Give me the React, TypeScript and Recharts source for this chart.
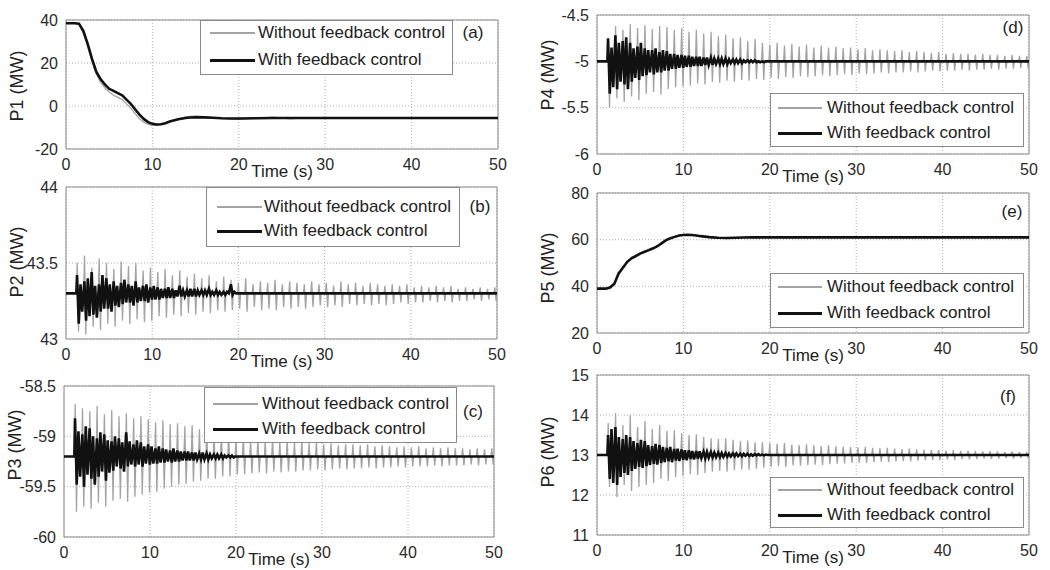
import React from "react";
import { LineChart, Line, XAxis, YAxis, CartesianGrid, ReferenceArea } from "recharts";

// shared time axis
const timeTicks = [0, 10, 20, 30, 40, 50];

// times of the oscillation spikes (s)
const spikeTimes = [1.2, 2.05, 2.9, 3.75, 4.6, 5.45, 6.3, 7.15, 8.0, 8.85, 9.7, 10.55, 11.4, 12.25, 13.1, 13.95, 14.8, 15.65, 16.5, 17.35, 18.2, 19.05, 19.9, 20.75, 21.6, 22.45, 23.3, 24.15, 25.0, 25.85, 26.7, 27.55, 28.4, 29.25, 30.1, 30.95, 31.8, 32.65, 33.5, 34.35, 35.2, 36.05, 36.9, 37.75, 38.6, 39.45, 40.3, 41.15, 42.0, 42.85, 43.7, 44.55, 45.4, 46.25, 47.1, 47.95, 48.8, 49.65];

// slow responses (P1, P5)
const slowTime = [0, 1, 1.5, 2, 2.5, 3, 3.5, 4, 4.5, 5, 5.5, 6, 6.5, 7, 7.5, 8, 8.5, 9, 9.5, 10, 10.5, 11, 11.5, 12, 13, 14, 15, 16, 17, 18, 19, 20, 22, 24, 26, 28, 30, 35, 40, 45, 50];

const p1With = [38.5, 38.5, 38.3, 35, 29, 22, 16, 12.5, 10, 8, 7, 6, 5, 3, 1, -1.5, -4, -6, -7.5, -8.3, -8.6, -8.5, -8, -7.2, -6.2, -5.5, -5.2, -5.3, -5.5, -5.7, -5.8, -5.8, -5.7, -5.6, -5.6, -5.6, -5.6, -5.6, -5.6, -5.6, -5.6];
const p1Without = [38.5, 38.5, 38, 34, 28, 21, 15, 11, 8.5, 6.5, 5, 4, 3, 1, -1, -3.5, -6, -7.5, -8.5, -9, -9, -8.6, -8, -7.2, -6, -5, -4.6, -5, -5.4, -5.8, -6, -6.2, -5.6, -5.2, -6, -5.4, -5.8, -5.6, -5.6, -5.6, -5.6];

const p5With = [39, 39, 39.5, 41, 45.5, 48, 50.5, 52, 53, 54, 54.8, 55.5, 56.3, 57.2, 58.5, 59.8, 60.6, 61.2, 61.8, 62, 62.1, 62, 61.8, 61.5, 61.1, 60.8, 60.7, 60.8, 60.9, 61, 61, 61, 61, 61, 61, 61, 61, 61, 61, 61, 61];
const p5Without = [39, 39, 39.8, 41.5, 45, 48.5, 50, 52.5, 52.8, 54.3, 54.5, 55.8, 56, 57.5, 58.2, 60, 60.4, 61.4, 61.6, 62.2, 62, 62.1, 61.7, 61.4, 60.9, 60.6, 60.8, 60.9, 61.1, 60.9, 61, 61.1, 60.9, 61, 61, 61, 61, 61, 61, 61, 61];

// P2
const p2Base = 43.3;
const p2Up = [43.50, 43.55, 43.47, 43.53, 43.50, 43.46, 43.51, 43.48, 43.50, 43.45, 43.47, 43.44, 43.46, 43.42, 43.45, 43.41, 43.43, 43.40, 43.42, 43.38, 43.41, 43.39, 43.37, 43.40, 43.36, 43.38, 43.37, 43.39, 43.36, 43.38, 43.37, 43.36, 43.38, 43.36, 43.37, 43.35, 43.38, 43.36, 43.37, 43.35, 43.37, 43.36, 43.35, 43.36, 43.35, 43.36, 43.34, 43.35, 43.34, 43.35, 43.34, 43.35, 43.33, 43.34, 43.33, 43.34, 43.33, 43.34];
const p2Down = [43.05, 43.03, 43.08, 43.06, 43.10, 43.08, 43.12, 43.10, 43.13, 43.11, 43.12, 43.15, 43.14, 43.16, 43.15, 43.17, 43.16, 43.18, 43.17, 43.19, 43.18, 43.19, 43.20, 43.18, 43.21, 43.19, 43.20, 43.19, 43.21, 43.20, 43.21, 43.20, 43.21, 43.22, 43.21, 43.22, 43.21, 43.23, 43.22, 43.23, 43.22, 43.23, 43.22, 43.23, 43.24, 43.23, 43.24, 43.24, 43.25, 43.24, 43.25, 43.24, 43.25, 43.25, 43.26, 43.25, 43.26, 43.25];
const p2Band = [
  [43.42, 43.10, 43.36, 43.18], [43.38, 43.12, 43.40, 43.15], [43.44, 43.16, 43.35, 43.14], [43.36, 43.18, 43.42, 43.20],
  [43.40, 43.20, 43.36, 43.18], [43.38, 43.22, 43.35, 43.21], [43.37, 43.23, 43.39, 43.24], [43.36, 43.24, 43.35, 43.22],
  [43.38, 43.24, 43.34, 43.25], [43.35, 43.25, 43.36, 43.24], [43.34, 43.26, 43.35, 43.26], [43.34, 43.26, 43.33, 43.27],
  [43.33, 43.27, 43.34, 43.27], [43.33, 43.27, 43.32, 43.28], [43.35, 43.28, 43.32, 43.28], [43.32, 43.28, 43.33, 43.28],
  [43.33, 43.28, 43.32, 43.29], [43.32, 43.29, 43.32, 43.29], [43.33, 43.29, 43.31, 43.29], [43.32, 43.29, 43.31, 43.29],
  [43.31, 43.29, 43.31, 43.30], [43.36, 43.29, 43.31, 43.30]
];

// P3
const p3Base = -59.2;
const p3Up = [-58.68, -58.72, -58.75, -58.70, -58.78, -58.74, -58.80, -58.77, -58.82, -58.80, -58.83, -58.86, -58.84, -58.88, -58.87, -58.90, -58.89, -58.93, -58.92, -58.96, -58.95, -58.98, -59.02, -59.00, -59.04, -59.02, -59.05, -59.03, -59.06, -59.04, -59.06, -59.05, -59.07, -59.06, -59.08, -59.07, -59.09, -59.08, -59.08, -59.09, -59.08, -59.10, -59.09, -59.10, -59.11, -59.10, -59.11, -59.10, -59.12, -59.11, -59.12, -59.11, -59.12, -59.12, -59.13, -59.12, -59.13, -59.12];
const p3Down = [-59.75, -59.70, -59.72, -59.66, -59.70, -59.64, -59.62, -59.65, -59.60, -59.58, -59.56, -59.55, -59.52, -59.50, -59.48, -59.47, -59.45, -59.44, -59.42, -59.42, -59.40, -59.40, -59.38, -59.38, -59.37, -59.36, -59.37, -59.35, -59.36, -59.35, -59.35, -59.34, -59.34, -59.33, -59.34, -59.33, -59.32, -59.33, -59.32, -59.32, -59.31, -59.32, -59.31, -59.31, -59.30, -59.31, -59.30, -59.30, -59.30, -59.29, -59.30, -59.29, -59.29, -59.29, -59.28, -59.29, -59.28, -59.28];
const p3Band = [
  [-58.82, -59.48, -58.95, -59.40], [-58.98, -59.50, -58.90, -59.38], [-58.92, -59.42, -59.00, -59.48], [-59.02, -59.40, -58.96, -59.35],
  [-58.98, -59.44, -59.04, -59.36], [-59.05, -59.34, -59.00, -59.30], [-59.02, -59.32, -59.06, -59.35], [-58.96, -59.30, -59.05, -59.28],
  [-59.08, -59.30, -59.04, -59.28], [-59.06, -59.30, -59.10, -59.27], [-59.08, -59.28, -59.10, -59.27], [-59.12, -59.27, -59.10, -59.26],
  [-59.12, -59.26, -59.13, -59.25], [-59.14, -59.26, -59.12, -59.25], [-59.14, -59.25, -59.15, -59.24], [-59.15, -59.24, -59.15, -59.24],
  [-59.16, -59.24, -59.16, -59.23], [-59.17, -59.23, -59.16, -59.23], [-59.17, -59.23, -59.18, -59.22], [-59.18, -59.22, -59.18, -59.22],
  [-59.18, -59.22, -59.19, -59.21], [-59.19, -59.21, -59.19, -59.21]
];

// P4
const p4Base = -5.0;
const p4Up = [-4.78, -4.62, -4.66, -4.60, -4.64, -4.61, -4.65, -4.62, -4.63, -4.66, -4.64, -4.68, -4.66, -4.70, -4.68, -4.73, -4.71, -4.75, -4.74, -4.78, -4.76, -4.80, -4.82, -4.80, -4.83, -4.81, -4.84, -4.82, -4.85, -4.83, -4.85, -4.84, -4.86, -4.85, -4.87, -4.86, -4.88, -4.87, -4.88, -4.89, -4.88, -4.90, -4.89, -4.90, -4.91, -4.90, -4.92, -4.91, -4.92, -4.92, -4.93, -4.92, -4.93, -4.93, -4.94, -4.93, -4.94, -4.94];
const p4Down = [-5.50, -5.40, -5.44, -5.38, -5.42, -5.35, -5.33, -5.36, -5.30, -5.28, -5.27, -5.26, -5.24, -5.25, -5.22, -5.23, -5.21, -5.22, -5.20, -5.21, -5.19, -5.20, -5.18, -5.19, -5.17, -5.18, -5.16, -5.17, -5.16, -5.15, -5.16, -5.15, -5.14, -5.15, -5.13, -5.14, -5.13, -5.12, -5.13, -5.12, -5.12, -5.11, -5.12, -5.11, -5.10, -5.11, -5.10, -5.10, -5.09, -5.10, -5.09, -5.09, -5.08, -5.09, -5.08, -5.08, -5.07, -5.08];
const p4Band = [
  [-4.75, -5.35, -4.85, -5.28], [-4.72, -5.30, -4.80, -5.22], [-4.78, -5.25, -4.74, -5.30], [-4.80, -5.22, -4.86, -5.18],
  [-4.84, -5.20, -4.80, -5.16], [-4.86, -5.15, -4.88, -5.12], [-4.88, -5.14, -4.86, -5.12], [-4.90, -5.12, -4.88, -5.10],
  [-4.89, -5.10, -4.92, -5.08], [-4.92, -5.08, -4.93, -5.07], [-4.93, -5.07, -4.94, -5.06], [-4.94, -5.06, -4.95, -5.05],
  [-4.95, -5.05, -4.95, -5.05], [-4.96, -5.04, -4.96, -5.04], [-4.96, -5.04, -4.97, -5.03], [-4.97, -5.03, -4.97, -5.03],
  [-4.97, -5.03, -4.98, -5.02], [-4.98, -5.02, -4.98, -5.02], [-4.98, -5.02, -4.99, -5.01], [-4.99, -5.01, -4.99, -5.01],
  [-4.99, -5.01, -5.00, -5.01], [-5.00, -5.01, -5.00, -5.00]
];

// P6
const p6Base = 13.0;
const p6Up = [13.80, 14.05, 13.75, 14.00, 13.70, 13.85, 13.65, 13.75, 13.60, 13.62, 13.55, 13.50, 13.52, 13.45, 13.42, 13.40, 13.42, 13.38, 13.35, 13.36, 13.32, 13.32, 13.30, 13.28, 13.30, 13.26, 13.25, 13.27, 13.24, 13.23, 13.24, 13.22, 13.21, 13.20, 13.19, 13.20, 13.18, 13.17, 13.18, 13.16, 13.15, 13.16, 13.14, 13.13, 13.12, 13.13, 13.11, 13.12, 13.10, 13.11, 13.10, 13.09, 13.10, 13.09, 13.08, 13.09, 13.08, 13.08];
const p6Down = [12.20, 11.95, 12.25, 12.10, 12.20, 12.25, 12.30, 12.40, 12.35, 12.45, 12.48, 12.52, 12.50, 12.55, 12.58, 12.60, 12.58, 12.62, 12.64, 12.63, 12.66, 12.68, 12.70, 12.72, 12.70, 12.74, 12.73, 12.75, 12.76, 12.75, 12.77, 12.78, 12.79, 12.80, 12.81, 12.80, 12.82, 12.83, 12.82, 12.84, 12.85, 12.84, 12.86, 12.87, 12.88, 12.87, 12.89, 12.88, 12.90, 12.89, 12.90, 12.91, 12.90, 12.91, 12.92, 12.91, 12.92, 12.92];
const p6Band = [
  [13.50, 12.40, 13.65, 12.30], [13.70, 12.25, 13.45, 12.45], [13.40, 12.55, 13.50, 12.50], [13.45, 12.60, 13.35, 12.65],
  [13.30, 12.70, 13.38, 12.68], [13.35, 12.72, 13.25, 12.75], [13.22, 12.78, 13.28, 12.76], [13.25, 12.80, 13.20, 12.82],
  [13.18, 12.84, 13.20, 12.82], [13.15, 12.86, 13.16, 12.85], [13.14, 12.88, 13.12, 12.87], [13.12, 12.90, 13.10, 12.89],
  [13.10, 12.91, 13.09, 12.92], [13.08, 12.92, 13.08, 12.93], [13.07, 12.94, 13.06, 12.94], [13.06, 12.95, 13.05, 12.95],
  [13.05, 12.96, 13.04, 12.96], [13.04, 12.97, 13.04, 12.97], [13.03, 12.97, 13.03, 12.98], [13.03, 12.98, 13.02, 12.98],
  [13.02, 12.99, 13.02, 12.99], [13.01, 12.99, 13.01, 13.00]
];

const FONT = "'Liberation Sans', Arial, Helvetica, sans-serif";
const GRAY = "#a3a3a3";
const BLACK = "#111";

function slowSeries(values: number[]) {
  return slowTime.map((t, i) => ({ t, v: values[i] }));
}

// each spike: up then down, back to the base level
function spikeSeries(base: number, ups: number[], downs: number[]) {
  const pts = [{ t: 0, v: base }];
  spikeTimes.forEach((t, i) => {
    pts.push({ t, v: base });
    pts.push({ t: t + 0.1, v: ups[i] });
    pts.push({ t: t + 0.25, v: downs[i] });
    pts.push({ t: t + 0.35, v: base });
  });
  pts.push({ t: 50, v: base });
  return pts;
}

// damped band: four extremes per cycle
function bandSeries(base: number, cycles: number[][]) {
  const pts = [{ t: 0, v: base }, { t: spikeTimes[0], v: base }];
  cycles.forEach((c, i) => {
    c.forEach((v, j) => pts.push({ t: spikeTimes[i] + 0.08 + j * 0.2, v }));
  });
  pts.push({ t: spikeTimes[cycles.length], v: base });
  pts.push({ t: 50, v: base });
  return pts;
}

const panels = [
  {
    box: [66, 20, 498, 149], domain: [-20, 40], ticks: [-20, 0, 20, 40], title: "P1 (MW)", titleY: 86,
    gray: slowSeries(p1Without), black: slowSeries(p1With),
    legend: { x: 200, y: 20, w: 253, h: 55, r1: 33, r2: 60, lx: 210, lw: 45, tx: 258 }, tag: "(a)", tagX: 473, tagY: 33
  },
  {
    box: [66, 187, 497, 339], domain: [43, 44], ticks: [43, 43.5, 44], title: "P2 (MW)", titleY: 262,
    gray: spikeSeries(p2Base, p2Up, p2Down), black: bandSeries(p2Base, p2Band),
    legend: { x: 206, y: 187, w: 254, h: 60, r1: 207, r2: 231, lx: 217, lw: 45, tx: 264 }, tag: "(b)", tagX: 480, tagY: 207
  },
  {
    box: [64, 386, 494, 537], domain: [-60, -58.5], ticks: [-60, -59.5, -59, -58.5], title: "P3 (MW)", titleY: 445,
    gray: spikeSeries(p3Base, p3Up, p3Down), black: bandSeries(p3Base, p3Band),
    legend: { x: 204, y: 387, w: 253, h: 56, r1: 404, r2: 429, lx: 213, lw: 45, tx: 262 }, tag: "(c)", tagX: 473, tagY: 412
  },
  {
    box: [597, 15, 1029, 154], domain: [-6, -4.5], ticks: [-6, -5.5, -5, -4.5], title: "P4 (MW)", titleY: 75,
    gray: spikeSeries(p4Base, p4Up, p4Down), black: bandSeries(p4Base, p4Band),
    legend: { x: 770, y: 93, w: 254, h: 54, r1: 108, r2: 133, lx: 778, lw: 44, tx: 827 }, tag: "(d)", tagX: 1013, tagY: 28
  },
  {
    box: [597, 193, 1029, 333], domain: [20, 80], ticks: [20, 40, 60, 80], title: "P5 (MW)", titleY: 268,
    gray: slowSeries(p5Without), black: slowSeries(p5With),
    legend: { x: 770, y: 273, w: 254, h: 55, r1: 287, r2: 313, lx: 778, lw: 44, tx: 827 }, tag: "(e)", tagX: 1012, tagY: 212
  },
  {
    box: [597, 375, 1029, 535], domain: [11, 15], ticks: [11, 12, 13, 14, 15], title: "P6 (MW)", titleY: 452,
    gray: spikeSeries(p6Base, p6Up, p6Down), black: bandSeries(p6Base, p6Band),
    legend: { x: 770, y: 477, w: 254, h: 51, r1: 490, r2: 515, lx: 778, lw: 44, tx: 827 }, tag: "(f)", tagX: 1008, tagY: 397
  }
];

const tickStyle = { fontSize: 16, fill: "#2a2a2a", fontFamily: FONT };

function Panel({ p }: any) {
  const [x0, y0, x1, y1] = p.box;
  const yw = 70;
  const top = 10;
  const right = 20;
  const xh = 40;
  const lg = p.legend;
  const text = { position: "absolute" as const, fontFamily: FONT, fontSize: 17, color: "#222", whiteSpace: "nowrap" as const, lineHeight: "20px" };
  return (
    <>
      <div style={{ position: "absolute", left: x0 - yw, top: y0 - top }}>
        <LineChart width={x1 - x0 + yw + right} height={y1 - y0 + top + xh} margin={{ top, right, bottom: 0, left: 0 }}>
          <CartesianGrid stroke="#b0b0b0" strokeDasharray="1 2" />
          <XAxis type="number" dataKey="t" domain={[0, 50]} ticks={timeTicks} allowDataOverflow
            tickLine={false} axisLine={false} height={xh} tick={tickStyle} tickMargin={4} />
          <YAxis type="number" dataKey="v" domain={p.domain} ticks={p.ticks} allowDataOverflow
            tickLine={false} axisLine={false} width={yw} tick={tickStyle} tickMargin={2} />
          <ReferenceArea x1={0} x2={50} y1={p.domain[0]} y2={p.domain[1]} fill="none" stroke="#8a8a8a" strokeWidth={1} />
          <Line data={p.gray} dataKey="v" type="linear" stroke={GRAY} strokeWidth={1.3} dot={false} isAnimationActive={false} />
          <Line data={p.black} dataKey="v" type="linear" stroke={BLACK} strokeWidth={2.6} dot={false} isAnimationActive={false} />
        </LineChart>
      </div>
      <div style={{ ...text, fontSize: 18, left: x0 - 49 - 60, top: p.titleY - 10, width: 120, textAlign: "center", transform: "rotate(-90deg)" }}>
        {p.title}
      </div>
      <div style={{ ...text, left: (x0 + x1) / 2 - 40, top: y1 + 13, width: 80, textAlign: "center" }}>Time (s)</div>
      <div style={{ position: "absolute", left: lg.x, top: lg.y, width: lg.w, height: lg.h, border: "1px solid #8a8a8a", background: "#fff", boxSizing: "border-box" }} />
      <div style={{ position: "absolute", left: lg.lx, top: lg.r1 - 1, width: lg.lw, borderTop: `2px solid ${GRAY}` }} />
      <div style={{ position: "absolute", left: lg.lx, top: lg.r2 - 1.5, width: lg.lw, borderTop: `3px solid ${BLACK}` }} />
      <div style={{ ...text, left: lg.tx, top: lg.r1 - 10 }}>Without feedback control</div>
      <div style={{ ...text, left: lg.tx, top: lg.r2 - 10 }}>With feedback control</div>
      <div style={{ ...text, left: p.tagX - 15, top: p.tagY - 10, width: 30, textAlign: "center" }}>{p.tag}</div>
    </>
  );
}

export default function App() {
  return (
    <div style={{ position: "absolute", left: 0, top: 0, width: 1050, height: 570, background: "#fff", overflow: "hidden" }}>
      {panels.map((p, i) => (
        <Panel key={i} p={p} />
      ))}
    </div>
  );
}
